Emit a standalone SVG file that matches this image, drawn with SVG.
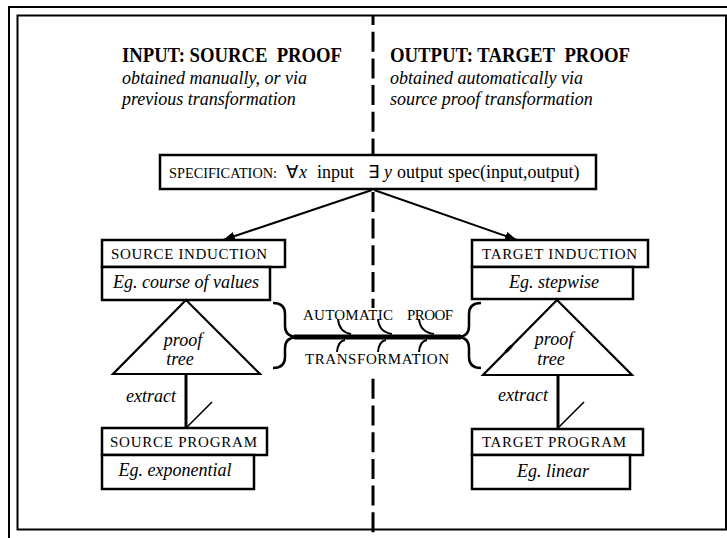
<svg xmlns="http://www.w3.org/2000/svg" width="727" height="538" viewBox="0 0 727 538">
<style>
text{font-family:"Liberation Serif","Times New Roman",serif;fill:#000}
.hd{font-weight:bold;font-size:20px}
.it{font-style:italic;font-size:18px}
.sc{font-size:15px}
.rm{font-size:18px}
.box{fill:#fff;stroke:#000;stroke-width:2.5}
.tri{fill:#fff;stroke:#000;stroke-width:2.2}
.ln{stroke:#000;fill:none}
</style>
<defs>
<marker id="ah" markerUnits="userSpaceOnUse" markerWidth="13" markerHeight="10" refX="12" refY="4.5" orient="auto">
<path d="M0,0 L12,4.5 L0,9 z" fill="#000"/>
</marker>
</defs>
<rect width="727" height="538" fill="#fff"/>
<g id="frame">
<path class="ln" d="M9,538 V7 H727" stroke-width="2"/>
<rect x="17.5" y="15.5" width="708.5" height="514" fill="none" stroke="#000" stroke-width="2"/>
<line x1="373" y1="16" x2="373" y2="538" stroke="#000" stroke-width="3" stroke-dasharray="20 6.7" stroke-dashoffset="11"/>
<rect x="364" y="308" width="18" height="69" fill="#fff"/>
</g>
<g id="header-input">
<text class="hd" x="122" y="62" textLength="220" lengthAdjust="spacingAndGlyphs">INPUT: SOURCE&#160; PROOF</text>
<text class="it" x="122" y="84">obtained manually, or via</text>
<text class="it" x="122" y="105">previous transformation</text>
</g>
<g id="header-output">
<text class="hd" x="390" y="62" textLength="240" lengthAdjust="spacingAndGlyphs">OUTPUT: TARGET&#160; PROOF</text>
<text class="it" x="390" y="84">obtained automatically via</text>
<text class="it" x="390" y="105">source proof transformation</text>
</g>
<g id="connectors">
<line class="ln" x1="372" y1="190" x2="223" y2="240" stroke-width="2" marker-end="url(#ah)"/>
<line class="ln" x1="374" y1="190" x2="517" y2="240" stroke-width="2" marker-end="url(#ah)"/>
<line class="ln" x1="186" y1="374" x2="186" y2="428" stroke-width="3"/>
<line class="ln" x1="187" y1="427" x2="212" y2="402" stroke-width="1.6"/>
<line class="ln" x1="558" y1="375" x2="558" y2="429" stroke-width="3"/>
<line class="ln" x1="559" y1="427" x2="584" y2="402" stroke-width="1.6"/>
<text class="it" x="126" y="402">extract</text>
<text class="it" x="498" y="401">extract</text>
</g>
<g id="spec">
<rect class="box" x="160" y="155" width="436" height="34"/>
<text x="169" y="178" font-size="14.5" textLength="108" lengthAdjust="spacingAndGlyphs">SPECIFICATION:</text>
<text y="178"><tspan class="rm" x="286">∀</tspan><tspan class="it" x="299">x</tspan><tspan class="rm" x="317">input</tspan><tspan class="rm" x="368">∃</tspan><tspan class="it" x="384">y</tspan><tspan class="rm" x="397">output</tspan><tspan class="rm" x="448">spec(input,output)</tspan></text>
</g>
<g id="source-induction">
<rect class="box" x="102" y="240" width="183" height="27"/>
<rect class="box" x="102" y="267" width="168" height="33"/>
<text class="sc" x="111" y="259" textLength="156">SOURCE INDUCTION</text>
<text class="it" x="186" y="288" text-anchor="middle">Eg. course of values</text>
</g>
<g id="source-proof-tree">
<polygon class="tri" points="186,300 113,374 260,374"/>
<text class="it" x="183" y="346" text-anchor="middle">proof</text>
<text class="it" x="180" y="365" text-anchor="middle">tree</text>
</g>
<g id="source-program">
<rect class="box" x="102" y="428" width="165" height="27"/>
<rect class="box" x="102" y="455" width="152" height="34"/>
<text class="sc" x="110" y="447" textLength="147">SOURCE PROGRAM</text>
<text class="it" x="175" y="476" text-anchor="middle">Eg. exponential</text>
</g>
<g id="target-induction">
<rect class="box" x="472" y="240" width="176" height="27"/>
<rect class="box" x="472" y="267" width="161" height="32"/>
<text class="sc" x="482" y="259" textLength="155">TARGET INDUCTION</text>
<text class="it" x="554" y="288" text-anchor="middle">Eg. stepwise</text>
</g>
<g id="target-proof-tree">
<polygon class="tri" points="557,300 483,375 632,375"/>
<line class="ln" x1="505.7" y1="352" x2="511.6" y2="346" stroke-width="3.2"/>
<text class="it" x="554" y="345" text-anchor="middle">proof</text>
<text class="it" x="551" y="365" text-anchor="middle">tree</text>
</g>
<g id="target-program">
<rect class="box" x="472" y="429" width="171" height="26"/>
<rect class="box" x="472" y="455" width="158" height="34"/>
<text class="sc" x="482" y="447" textLength="144">TARGET PROGRAM</text>
<text class="it" x="553" y="477" text-anchor="middle">Eg. linear</text>
</g>
<g id="transformation">
<path class="ln" stroke-width="2.5" d="M273,303 Q285,303 285,314 L285,326 Q285,336 296,337 Q285,338 285,348 L285,357 Q285,368 273,368"/>
<path class="ln" stroke-width="2.5" d="M481,303 Q469,303 469,314 L469,326 Q469,336 459,337 Q469,338 469,348 L469,357 Q469,368 481,368"/>
<line class="ln" x1="294" y1="337" x2="461" y2="337" stroke-width="5"/>
<g class="ln" stroke-width="2">
<path d="M338,319 Q339,332 351,334"/>
<path d="M378,319 Q379,332 392,334"/>
<path d="M419,319 Q420,332 434,334"/>
<path d="M345,340 Q338,341 337,352"/>
<path d="M386,340 Q379,341 378,352"/>
<path d="M427,340 Q420,341 419,352"/>
</g>
<text class="sc" x="303" y="320" textLength="90">AUTOMATIC</text>
<text class="sc" x="407" y="320" textLength="46">PROOF</text>
<text class="sc" x="305" y="364" textLength="144">TRANSFORMATION</text>
</g>
</svg>
